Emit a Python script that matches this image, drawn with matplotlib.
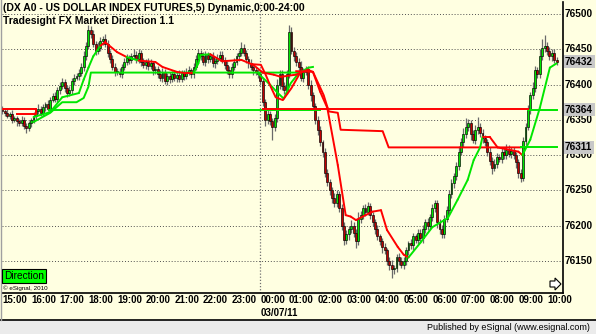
import matplotlib
matplotlib.use('Agg')
import matplotlib.pyplot as plt
from matplotlib.patches import Rectangle, Polygon
from matplotlib.transforms import blended_transform_factory

plt.rcParams['font.family'] = ['Liberation Sans', 'DejaVu Sans']

W, H = 596, 334
BG = '#FFFFE1'
GREEN = '#00E600'
RED = '#FF0000'

# 5-minute closes, 15:00 -> 10:20
closes = [
    76362, 76360, 76355, 76358, 76350, 76352, 76348, 76345, 76350, 76342, 76338, 76345,
    76350, 76356, 76362, 76366, 76360, 76368, 76372, 76366, 76378, 76384, 76380, 76392,
    76398, 76404, 76395, 76388, 76392, 76405, 76410, 76412, 76416, 76425, 76440, 76455,
    76478, 76472, 76458, 76448, 76452, 76462, 76465, 76458, 76445, 76436, 76425, 76418,
    76418, 76415, 76425, 76432, 76438, 76435, 76440, 76442, 76436, 76445, 76432, 76428,
    76432, 76426, 76430, 76420, 76422, 76415, 76410, 76418, 76405, 76412, 76408, 76415,
    76410, 76414, 76408, 76416, 76412, 76418, 76420, 76415, 76425, 76436, 76445, 76440,
    76432, 76442, 76436, 76440, 76430, 76434, 76438, 76442, 76435, 76428, 76420, 76415,
    76425, 76432, 76440, 76445, 76452, 76445, 76436, 76430, 76425, 76420, 76418, 76415,
    76405, 76375, 76350, 76358, 76348, 76340, 76352, 76400, 76415, 76398, 76392, 76415,
    76475, 76448, 76440, 76432, 76425, 76410, 76418, 76422, 76400, 76385, 76370, 76350,
    76335, 76318, 76305, 76275, 76262, 76250, 76240, 76232, 76245, 76225, 76200, 76180,
    76188, 76195, 76200, 76190, 76178, 76210, 76215, 76225, 76220, 76228, 76215, 76205,
    76195, 76185, 76178, 76170, 76165, 76150, 76145, 76138, 76140, 76155, 76150, 76145,
    76150, 76165, 76175, 76172, 76185, 76180, 76190, 76182, 76195, 76205, 76200, 76212,
    76225, 76232, 76205, 76195, 76188, 76210, 76222, 76245, 76260, 76270, 76285, 76305,
    76318, 76330, 76340, 76345, 76330, 76322, 76335, 76340, 76332, 76325, 76318, 76305,
    76292, 76282, 76288, 76298, 76295, 76305, 76300, 76308, 76302, 76306, 76300, 76290,
    76275, 76268, 76320, 76340, 76365, 76385, 76395, 76420, 76415, 76440, 76452, 76455,
    76448, 76440, 76445, 76435, 76432,
]
first_open = 76366

up_wick = [
    4, 3, 5, 3, 6, 3, 4, 3, 5, 4, 3, 4,
    3, 5, 4, 6, 3, 5, 4, 6, 5, 4, 6, 5,
    6, 5, 4, 5, 6, 4, 5, 4, 6, 5, 8, 6,
    7, 5, 6, 4, 8, 5, 4, 6, 5, 4, 6, 5,
    5, 6, 4, 5, 6, 4, 5, 8, 5, 6, 4, 5,
    4, 5, 6, 4, 5, 4, 6, 5, 4, 5, 6, 4,
    5, 4, 6, 5, 4, 5, 6, 4, 5, 6, 5, 4,
    6, 5, 4, 5, 6, 4, 5, 6, 5, 4, 5, 6,
    5, 6, 5, 4, 8, 5, 4, 5, 6, 4, 5, 4,
    4, 5, 4, 6, 5, 4, 6, 8, 5, 6, 5, 6,
    10, 6, 5, 6, 5, 8, 6, 5, 4, 6, 5, 4,
    5, 6, 4, 5, 6, 4, 5, 6, 5, 4, 6, 5,
    6, 5, 8, 6, 5, 10, 6, 5, 6, 5, 4, 5,
    5, 6, 4, 5, 6, 4, 5, 6, 4, 5, 6, 5,
    6, 5, 4, 6, 5, 4, 6, 5, 6, 5, 6, 5,
    6, 5, 4, 5, 6, 5, 6, 5, 6, 5, 6, 8,
    6, 8, 12, 6, 5, 6, 8, 14, 6, 5, 4, 5,
    6, 5, 6, 5, 4, 6, 5, 8, 6, 5, 6, 5,
    4, 6, 6, 5, 6, 5, 8, 6, 5, 10, 12, 15,
    6, 5, 6, 5, 4,
]
dn_wick = [
    4, 5, 3, 4, 5, 3, 6, 4, 3, 5, 6, 4,
    5, 4, 6, 3, 5, 4, 6, 4, 5, 3, 4, 5,
    5, 4, 6, 5, 4, 5, 6, 4, 5, 4, 6, 5,
    4, 6, 5, 6, 4, 5, 6, 5, 6, 5, 4, 6,
    5, 4, 6, 5, 4, 6, 5, 4, 6, 5, 6, 4,
    6, 5, 4, 6, 5, 6, 5, 6, 4, 5, 6, 5,
    5, 6, 4, 5, 6, 4, 5, 6, 5, 4, 6, 5,
    4, 5, 6, 4, 5, 6, 5, 4, 5, 6, 5, 6,
    6, 5, 4, 6, 5, 4, 5, 6, 5, 6, 5, 6,
    5, 6, 8, 6, 5, 18, 6, 5, 6, 5, 6, 5,
    6, 5, 6, 5, 6, 5, 6, 5, 6, 8, 5, 6,
    6, 5, 8, 6, 5, 6, 8, 5, 6, 5, 6, 8,
    6, 8, 5, 6, 10, 5, 6, 5, 6, 5, 6, 5,
    6, 5, 6, 8, 5, 6, 8, 12, 6, 5, 6, 5,
    6, 5, 6, 5, 6, 5, 6, 5, 6, 5, 6, 5,
    5, 6, 8, 6, 5, 6, 5, 6, 5, 6, 5, 6,
    5, 6, 5, 6, 8, 5, 6, 5, 6, 8, 5, 6,
    6, 8, 5, 6, 5, 6, 5, 6, 5, 6, 5, 8,
    8, 6, 5, 6, 5, 6, 5, 6, 5, 6, 5, 6,
    6, 5, 6, 5, 4,
]

# indicator lines (bar index, price)
red_stop_a_x = [0, 14]
red_stop_a_y = [76366, 76366]
red_stop_b_x = [6, 14, 14]
red_stop_b_y = [76358, 76358, 76366]

green_level_x = [19.5, 133]
green_level_y = [76364, 76364]
red_level_x = [109, 220]
red_level_y = [76365, 76365]
green_level2_x = [220, 232]
green_level2_y = [76364, 76364]

green_stop_x = [13, 20, 25, 31, 34, 36, 37, 124]
green_stop_y = [76347, 76360, 76375, 76375, 76381, 76397, 76417, 76417]
red_stop_x = [123, 130, 134.5, 136.6, 140.4, 141.6, 159.2, 161.7, 217]
red_stop_y = [76419, 76418, 76385, 76362, 76360, 76336, 76334, 76311, 76311]
green_stop2_x = [217, 232]
green_stop2_y = [76311, 76311]

green_dip_x = [107.3, 112.3, 115.3, 117.8, 120.7, 124, 128.2, 130]
green_dip_y = [76415, 76399, 76388, 76380, 76402, 76416, 76424, 76425]
red_fast_x = [104, 108.2, 110.2, 112.3, 114.4, 117.4, 121, 124.2]
red_fast_y = [76429, 76428, 76414, 76397, 76382, 76378, 76395, 76414]

ma_x = [13, 20, 25, 32, 34, 36, 38, 41, 43, 48, 52, 57, 64, 67, 73, 77, 80, 82,
        83, 87, 92, 100, 105, 109, 113.6, 116.5, 122.8, 127.8, 130, 133, 136,
        140.4, 143.7, 145.8, 148, 152, 155, 158.5, 161, 165.5, 168, 170, 175,
        180, 186.5, 190.6, 194.8, 197.3, 200, 201, 204, 207.3, 216, 217.7, 221,
        225, 229.2, 232]
ma_y = [76354, 76361, 76382, 76388, 76407, 76424, 76440, 76455, 76460, 76446,
        76439, 76434, 76432, 76425, 76418, 76416, 76416, 76430, 76442, 76443,
        76433, 76435, 76428, 76417, 76414, 76411, 76414, 76421, 76418, 76390,
        76367, 76286, 76215, 76213, 76208, 76215, 76220, 76222, 76194, 76170,
        76159, 76155, 76176, 76198, 76211, 76237, 76265, 76293, 76311, 76326,
        76326, 76311, 76305, 76300, 76322, 76367, 76424, 76430]
ma_green = [(13, 41), (52, 57), (80, 87), (170, 201), (217.7, 232)]

price_ticks = [76150, 76200, 76250, 76300, 76350, 76400, 76450, 76500]
dot_levels = [76125, 76175, 76225, 76275, 76325, 76375, 76425, 76475]
hour_labels = ['15:00', '16:00', '17:00', '18:00', '19:00', '20:00', '21:00',
               '22:00', '23:00', '00:00', '01:00', '02:00', '03:00', '04:00',
               '05:00', '06:00', '07:00', '08:00', '09:00', '10:00']
marked_prices = [76432, 76364, 76311]


def px(x, y):
    return x / W, 1 - y / H


fig = plt.figure(figsize=(W / 100, H / 100), dpi=100)
fig.patch.set_facecolor(BG)

# bottom status strip
fig.patches.append(Rectangle((0, 0), 1, 14 / H, transform=fig.transFigure,
                             facecolor='#EBEBEB', edgecolor='none', zorder=0))
fig.add_artist(plt.Line2D([0, 1], [14 / H, 14 / H], transform=fig.transFigure,
                          color='black', lw=1.2))
fig.add_artist(plt.Line2D([0.5 / W, 0.5 / W], [14 / H, 1], transform=fig.transFigure,
                          color='#A0A0A0', lw=1))

ax = fig.add_axes([2 / W, (H - 293) / H, (563 - 2) / W, (293 - 2) / H])
ax.set_facecolor(BG)
ax.set_xlim(-0.2, 234.7)
ax.set_ylim(76104.7, 76517)
ax.set_xticks([])
ax.set_yticks([])
for s in ['top', 'left']:
    ax.spines[s].set_visible(False)
ax.spines['right'].set_color('black')
ax.spines['bottom'].set_color('black')
ax.spines['right'].set_linewidth(1.2)
ax.spines['bottom'].set_linewidth(1.2)

# grid
ax.hlines(price_ticks, -0.2, 234.7, colors='#505050', linestyles=(0, (1, 2)), lw=0.7, zorder=1)
ax.vlines(108, 76104.7, 76517, colors='#707070', linestyles=(0, (1, 1.5)), lw=0.9, zorder=1)
for h in range(1, len(hour_labels)):
    ax.scatter([12 * h] * len(dot_levels), dot_levels, marker='s', s=0.5,
               color='#202020', linewidths=0, zorder=1)

# candles
opens = [first_open] + closes[:-1]
for i, (o, c) in enumerate(zip(opens, closes)):
    hi = max(o, c) + up_wick[i]
    lo = min(o, c) - dn_wick[i]
    ax.vlines(i, lo, hi, colors='#6A6A6A', lw=0.9, zorder=2)
    col = GREEN if c >= o else '#C00000'
    body = max(abs(c - o), 1.2)
    ax.add_patch(Rectangle((i - 0.4, min(o, c)), 0.8, body, facecolor=col,
                           edgecolor='black', lw=0.45, zorder=3))

# indicator lines
LW = 1.4
ax.plot(green_level_x, green_level_y, color=GREEN, lw=LW, zorder=4)
ax.plot(green_level2_x, green_level2_y, color=GREEN, lw=LW, zorder=4)
ax.plot(red_level_x, red_level_y, color=RED, lw=LW, zorder=5)
ax.plot(red_stop_a_x, red_stop_a_y, color=RED, lw=LW, zorder=4)
ax.plot(red_stop_b_x, red_stop_b_y, color=RED, lw=LW, zorder=4)
ax.plot(green_stop_x, green_stop_y, color=GREEN, lw=LW, zorder=4)
ax.plot(red_stop_x, red_stop_y, color=RED, lw=LW, zorder=5)
ax.plot(green_stop2_x, green_stop2_y, color=GREEN, lw=LW, zorder=5)
ax.plot(green_dip_x, green_dip_y, color=GREEN, lw=LW, zorder=4)
ax.plot(red_fast_x, red_fast_y, color=RED, lw=LW, zorder=4)
for k in range(len(ma_x) - 1):
    mid = (ma_x[k] + ma_x[k + 1]) / 2
    green = any(a <= mid <= b for a, b in ma_green)
    ax.plot(ma_x[k:k + 2], ma_y[k:k + 2], color=GREEN if green else RED,
            lw=LW, zorder=6, solid_capstyle='round')

# right price axis
ty = blended_transform_factory(fig.transFigure, ax.transData)
for p in price_ticks:
    ax.text(565 / W, p, str(p), transform=ty, ha='left', va='center',
            fontsize=7.2, fontweight='bold', clip_on=False)
for p in marked_prices:
    ax.text(565 / W, p, str(p), transform=ty, ha='left', va='center',
            fontsize=7.2, fontweight='bold', clip_on=False, zorder=10,
            bbox=dict(boxstyle='square,pad=0.15', facecolor='#C8C8C8', edgecolor='none'))

# time axis
tx = blended_transform_factory(ax.transData, fig.transFigure)
for h, lab in enumerate(hour_labels):
    ax.text(12 * h, 1 - 300 / H, lab, transform=tx, ha='left', va='center',
            fontsize=7, fontweight='bold', clip_on=False)
ax.text(108, 1 - 313 / H, '03/07/11', transform=tx, ha='left', va='center',
        fontsize=7, fontweight='bold', clip_on=False)

# titles and labels
fig.text(*px(3, 8), '(DX A0 - US DOLLAR INDEX FUTURES,5) Dynamic,0:00-24:00',
         ha='left', va='center', fontsize=7.5, fontweight='bold')
fig.text(*px(3, 21), 'Tradesight FX Market Direction 1.1',
         ha='left', va='center', fontsize=7.5, fontweight='bold')
fig.text(*px(4, 276), 'Direction', ha='left', va='center', fontsize=7.3,
         bbox=dict(boxstyle='square,pad=0.2', facecolor='#00FF00', edgecolor='black', lw=0.8))
fig.text(*px(3, 288), '\u00a9 eSignal, 2010', ha='left', va='center', fontsize=4.5)
fig.text(*px(590, 327), 'Published by eSignal (www.esignal.com)', ha='right',
         va='center', fontsize=6.5)

# small cursor icon
icon = [(550, 281), (555, 281), (555, 278), (561, 284), (555, 290), (555, 287), (550, 287)]
fig.patches.append(Polygon([px(x, y) for x, y in icon], closed=True,
                           transform=fig.transFigure, facecolor='white',
                           edgecolor='black', lw=0.8, zorder=10))

fig.savefig('out.png', dpi=100, facecolor=BG)
